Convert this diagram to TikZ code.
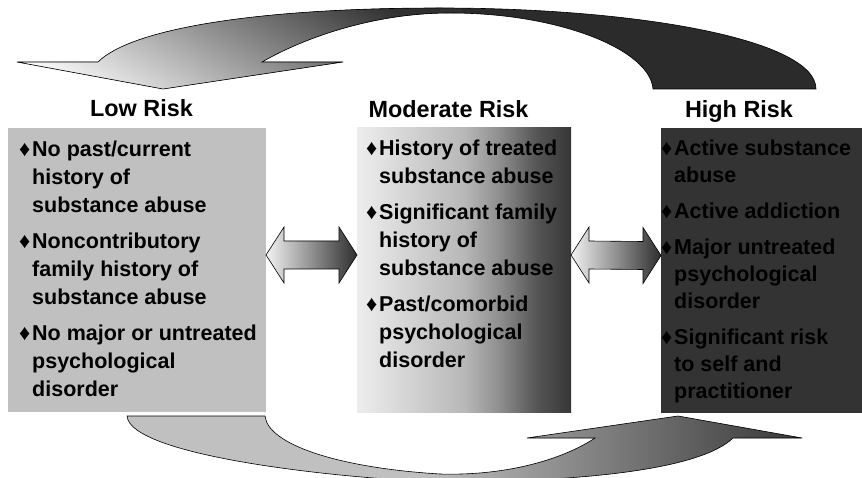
\documentclass[tikz,border=0pt]{standalone}
\usepackage{fontspec}
\setmainfont{Liberation Sans}
\usetikzlibrary{calc}
\definecolor{lowgray}{HTML}{C0C0C0}
\definecolor{highgray}{HTML}{333333}
\definecolor{bandgray}{HTML}{2B2B2B}
\definecolor{mA}{HTML}{EDEDED}
\definecolor{mB}{HTML}{B8B8B8}
\definecolor{mC}{HTML}{909090}
\definecolor{mD}{HTML}{555555}
\definecolor{mE}{HTML}{363636}
\definecolor{dlight}{HTML}{F2F2F2}
\definecolor{ddark}{HTML}{2E2E2E}
\definecolor{tdark}{HTML}{303030}
\definecolor{tmid}{HTML}{A0A0A0}
\definecolor{tlight}{HTML}{FAFAFA}
\pgfdeclarehorizontalshading{modsh}{100bp}{color(0bp)=(mA); color(25bp)=(mA); color(50bp)=(mB); color(58bp)=(mC); color(67bp)=(mD); color(75bp)=(mE); color(100bp)=(mE)}
\newcommand\dia{\makebox[12pt][l]{\hspace*{-1pt}\fontsize{22}{22}\selectfont ♦}}
\newcommand\ind{\hspace*{12pt}}
\def\toppath{(98,62) .. controls (130,30) and (250,8) .. (440,8) .. controls (640,8) and (816,40) .. (816,89) -- (653,89) .. controls (650,50) and (560,13) .. (450,13) .. controls (370,13) and (300,40) .. (262,62) -- (343,62) -- (163,89) -- (17,62) -- cycle}
\def\botpath{(127,416) -- (265,416) .. controls (268,445) and (340,468) .. (440,474) .. controls (510,476) and (565,458) .. (595,438) -- (527,438) -- (678,416) -- (802,438) -- (733,438) .. controls (700,470) and (580,482) .. (440,482) .. controls (330,478) and (130,455) .. (127,416) -- cycle}
\begin{document}
\begin{tikzpicture}[x=1pt,y=-1pt,
  outline/.style={draw=black, line width=0.6pt},
  boxbase/.style={inner sep=0pt, outer sep=0pt, minimum height=284pt},
  header/.style={font=\fontsize{23.4}{28}\selectfont\bfseries, inner sep=0pt, anchor=base},
  bodytext/.style={font=\fontsize{21.5}{28}\selectfont\bfseries, align=left, inner sep=0pt, anchor=north west},
  dblarrow/.style={outline, left color=dlight, right color=ddark}]
\useasboundingbox (0,0) rectangle (862,478);
\fill[white] (0,0) rectangle (862,478);

% boxes
\node[boxbase, fill=lowgray, minimum width=258pt] (low) at (137,270) {};
\node[boxbase, shading=modsh, minimum width=214pt] (mod) at (464,270) {};
\node[boxbase, fill=highgray, minimum width=209pt] (high) at (765.5,270.5) {};

% top curved arrow
\fill[bandgray] \toppath;
\begin{scope}
  \clip \toppath;
  \path[top color=tdark, middle color=tmid, bottom color=tlight, shading angle=-30] (0,0) rectangle (462,95);
\end{scope}
\draw[outline] \toppath;

% bottom curved arrow
\fill[lowgray] \botpath;
\begin{scope}
  \clip \botpath;
  \path[left color=lowgray, right color=mE] (420,400) rectangle (805,490);
\end{scope}
\draw[outline] \botpath;

% double arrows
\coordinate (a1L) at ([yshift=15pt]low.east);
\coordinate (a1R) at ([yshift=15pt]mod.west);
\coordinate (a2L) at ([yshift=15pt]mod.east);
\coordinate (a2R) at ([yshift=15pt]high.west);
\draw[dblarrow] (a1L) -- ($(a1L)+(18,-28)$) -- ($(a1L)+(18,-14)$) -- ($(a1R)+(-18,-14)$) -- ($(a1R)+(-18,-28)$) -- (a1R) -- ($(a1R)+(-18,28)$) -- ($(a1R)+(-18,14)$) -- ($(a1L)+(18,14)$) -- ($(a1L)+(18,28)$) -- cycle;
\draw[dblarrow] (a2L) -- ($(a2L)+(18,-28)$) -- ($(a2L)+(18,-14)$) -- ($(a2R)+(-18,-14)$) -- ($(a2R)+(-18,-28)$) -- (a2R) -- ($(a2R)+(-18,28)$) -- ($(a2R)+(-18,14)$) -- ($(a2L)+(18,14)$) -- ($(a2L)+(18,28)$) -- cycle;

% headers
\node[header] (lowh) at (141.5,117) {Low Risk};
\node[header] (modh) at (448.5,118) {Moderate Risk};
\node[header] (highh) at (739,118) {High Risk};

% body texts
\node[bodytext] (lowt) at (20,141) {\dia No past/current\\\ind history of\\\ind substance abuse\\[8pt]\dia Noncontributory\\\ind family history of\\\ind substance abuse\\[8pt]\dia No major or untreated\\\ind psychological\\\ind disorder};
\node[bodytext] (modt) at (367,139.5) {\dia History of treated\\\ind substance abuse\\[8pt]\dia Significant family\\\ind history of\\\ind substance abuse\\[8pt]\dia Past/comorbid\\\ind psychological\\\ind disorder};
\node[bodytext, font=\fontsize{21.5}{27}\selectfont\bfseries] (hight) at (662,139.5) {\dia Active substance\\\ind abuse\\[9pt]\dia Active addiction\\[9pt]\dia Major untreated\\\ind psychological\\\ind disorder\\[9pt]\dia Significant risk\\\ind to self and\\\ind practitioner};
\end{tikzpicture}
\end{document}
